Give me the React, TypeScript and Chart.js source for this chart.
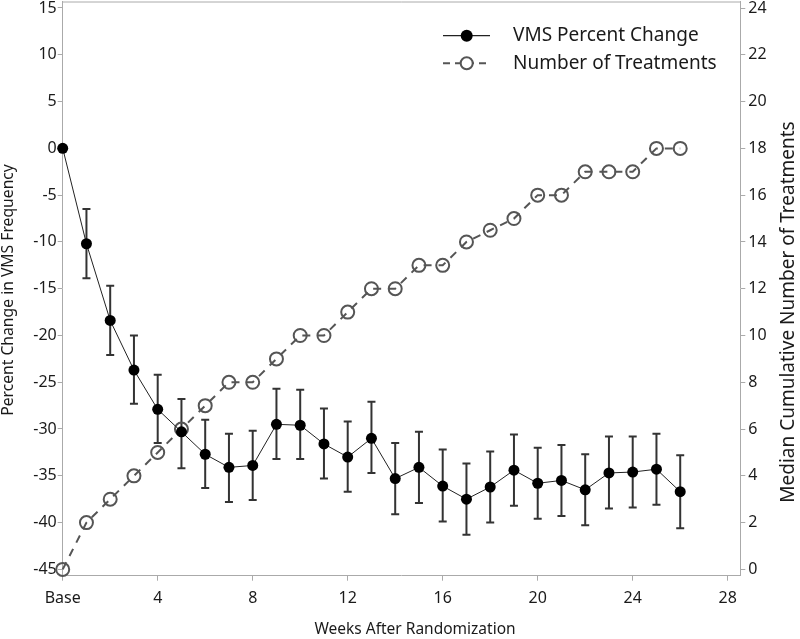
import React, { useEffect, useRef } from "react";
import { Chart, registerables } from "chart.js";

Chart.register(...registerables);

const weeks = [0, 1, 2, 3, 4, 5, 6, 7, 8, 9, 10, 11, 12, 13, 14, 15, 16, 17, 18, 19, 20, 21, 22, 23, 24, 25, 26];
const vmsChange = [0, -10.2, -18.4, -23.7, -27.9, -30.3, -32.7, -34.1, -33.9, -29.5, -29.6, -31.6, -33.0, -31.0, -35.3, -34.1, -36.1, -37.5, -36.2, -34.4, -35.8, -35.5, -36.5, -34.7, -34.6, -34.3, -36.7];
const vmsUpper = [null, -6.5, -14.7, -20.0, -24.2, -26.8, -29.0, -30.5, -30.2, -25.7, -25.8, -27.8, -29.2, -27.1, -31.5, -30.3, -32.2, -33.7, -32.4, -30.6, -32.0, -31.7, -32.7, -30.8, -30.8, -30.5, -32.8];
const vmsLower = [null, -13.9, -22.1, -27.3, -31.5, -34.2, -36.3, -37.8, -37.6, -33.2, -33.2, -35.3, -36.7, -34.7, -39.1, -37.9, -39.9, -41.3, -40.0, -38.2, -39.6, -39.3, -40.3, -38.5, -38.4, -38.1, -40.6];
const treatments = [0, 2, 3, 4, 5, 6, 7, 8, 8, 9, 10, 10, 11, 12, 12, 13, 13, 14, 14.5, 15, 16, 16, 17, 17, 17, 18, 18];

const xTicks = [0, 4, 8, 12, 16, 20, 24, 28];
const leftTicks = [-45, -40, -35, -30, -25, -20, -15, -10, -5, 0, 5, 10, 15];
const rightTicks = [0, 2, 4, 6, 8, 10, 12, 14, 16, 18, 20, 22, 24];

const seriesNames = ["VMS Percent Change", "Number of Treatments"];
const xTitle = "Weeks After Randomization";
const leftTitle = "Percent Change in VMS Frequency";
const rightTitle = "Median Cumulative Number of Treatments";

const FONT = "'Noto Sans', sans-serif";
const AXIS = "#aaaaaa";
const TEXT = "#1a1a1a";
const GRAY = "#555555";

const extrasPlugin = {
  id: "extras",
  beforeDatasetsDraw(chart: any) {
    const ctx = chart.ctx;
    const xs = chart.scales.x;
    const ys = chart.scales.y;
    ctx.save();
    ctx.strokeStyle = "#333333";
    ctx.lineWidth = 2;
    for (let i = 0; i < weeks.length; i++) {
      const lo = vmsLower[i];
      const hi = vmsUpper[i];
      if (lo === null || hi === null) continue;
      const px = xs.getPixelForValue(weeks[i]);
      const y1 = ys.getPixelForValue(hi);
      const y2 = ys.getPixelForValue(lo);
      ctx.beginPath();
      ctx.moveTo(px, y1);
      ctx.lineTo(px, y2);
      ctx.moveTo(px - 4, y1);
      ctx.lineTo(px + 4, y1);
      ctx.moveTo(px - 4, y2);
      ctx.lineTo(px + 4, y2);
      ctx.stroke();
    }
    ctx.restore();
  },
  afterDraw(chart: any) {
    const ctx = chart.ctx;
    const area = chart.chartArea;
    ctx.save();
    // top frame
    ctx.strokeStyle = AXIS;
    ctx.lineWidth = 1;
    ctx.beginPath();
    ctx.moveTo(area.left, area.top + 0.5);
    ctx.lineTo(area.right, area.top + 0.5);
    ctx.stroke();

    // legend
    const lx1 = 443;
    const lx2 = 490;
    const lc = 466.7;
    const r1 = 35.7;
    const r2 = 63.3;
    ctx.strokeStyle = "#222222";
    ctx.lineWidth = 1.2;
    ctx.beginPath();
    ctx.moveTo(lx1, r1);
    ctx.lineTo(lx2, r1);
    ctx.stroke();
    ctx.fillStyle = "#000000";
    ctx.beginPath();
    ctx.arc(lc, r1, 6, 0, Math.PI * 2);
    ctx.fill();

    ctx.strokeStyle = GRAY;
    ctx.lineWidth = 2;
    ctx.setLineDash([7, 5]);
    ctx.beginPath();
    ctx.moveTo(lx1, r2);
    ctx.lineTo(lx2, r2);
    ctx.stroke();
    ctx.setLineDash([]);
    ctx.fillStyle = "#ffffff";
    ctx.beginPath();
    ctx.arc(lc, r2, 6, 0, Math.PI * 2);
    ctx.fill();
    ctx.stroke();

    ctx.fillStyle = TEXT;
    ctx.font = "19px " + FONT;
    ctx.textAlign = "left";
    ctx.textBaseline = "middle";
    ctx.fillText(seriesNames[0], 513, r1);
    ctx.fillText(seriesNames[1], 513, r2);

    // x axis title
    ctx.font = "15.5px " + FONT;
    ctx.textAlign = "center";
    ctx.textBaseline = "middle";
    ctx.fillText(xTitle, 415, 630);

    // left axis title
    ctx.save();
    ctx.translate(9, 290);
    ctx.rotate(-Math.PI / 2);
    ctx.font = "15.7px " + FONT;
    ctx.fillText(leftTitle, 0, 0);
    ctx.restore();

    // right axis title (reads bottom to top)
    ctx.save();
    ctx.translate(789, 312);
    ctx.rotate(-Math.PI / 2);
    ctx.font = "19px " + FONT;
    ctx.fillText(rightTitle, 0, 0);
    ctx.restore();

    ctx.restore();
  },
};

export default function App() {
  const ref = useRef<HTMLCanvasElement | null>(null);
  useEffect(() => {
    if (!ref.current) return;
    const chart = new Chart(ref.current, {
      type: "line",
      data: {
        datasets: [
          {
            label: seriesNames[0],
            data: weeks.map((w, i) => ({ x: w, y: vmsChange[i] })),
            yAxisID: "y",
            borderColor: "#222222",
            borderWidth: 1,
            pointRadius: 5.5,
            pointBackgroundColor: "#000000",
            pointBorderColor: "#000000",
            pointBorderWidth: 0,
            tension: 0,
            clip: false,
          },
          {
            label: seriesNames[1],
            data: weeks.map((w, i) => ({ x: w, y: treatments[i] })),
            yAxisID: "y2",
            borderColor: GRAY,
            borderWidth: 2,
            borderDash: [8, 7],
            pointRadius: 6.5,
            pointBackgroundColor: "rgba(0,0,0,0)",
            pointBorderColor: GRAY,
            pointBorderWidth: 2,
            tension: 0,
            clip: false,
          },
        ],
      },
      options: {
        responsive: false,
        animation: false,
        layout: { autoPadding: false, padding: { top: 1.5, left: 0, right: 0, bottom: 0 } },
        plugins: { legend: { display: false }, tooltip: { enabled: false } },
        scales: {
          x: {
            type: "linear",
            min: 0,
            max: 28.53,
            afterBuildTicks: (s: any) => {
              s.ticks = xTicks.map((v) => ({ value: v }));
            },
            afterFit: (s: any) => {
              s.height = 63.3;
              s.paddingLeft = 0;
              s.paddingRight = 0;
            },
            ticks: {
              callback: (v: any) => (Number(v) === 0 ? "Base" : String(v)),
              font: { family: FONT, size: 16 },
              color: TEXT,
              padding: 8,
              maxRotation: 0,
            },
            grid: { drawOnChartArea: false, tickLength: 5, color: AXIS },
            border: { display: true, color: AXIS },
          },
          y: {
            type: "linear",
            position: "left",
            min: -45.68,
            max: 15.69,
            afterBuildTicks: (s: any) => {
              s.ticks = leftTicks.map((v) => ({ value: v }));
            },
            afterFit: (s: any) => {
              s.width = 62.7;
              s.paddingTop = 0;
              s.paddingBottom = 0;
            },
            ticks: { font: { family: FONT, size: 16 }, color: TEXT, padding: 1 },
            grid: { drawOnChartArea: false, tickLength: 5, color: AXIS },
            border: { display: true, color: AXIS },
          },
          y2: {
            type: "linear",
            position: "right",
            min: -0.27,
            max: 24.28,
            afterBuildTicks: (s: any) => {
              s.ticks = rightTicks.map((v) => ({ value: v }));
            },
            afterFit: (s: any) => {
              s.width = 59.7;
              s.paddingTop = 0;
              s.paddingBottom = 0;
            },
            ticks: { font: { family: FONT, size: 16 }, color: TEXT, padding: 3 },
            grid: { drawOnChartArea: false, tickLength: 5, color: AXIS },
            border: { display: true, color: AXIS },
          },
        },
      },
      plugins: [extrasPlugin],
    } as any);
    return () => chart.destroy();
  }, []);
  return (
    <div style={{ position: "absolute", left: 0, top: 0, width: 800, height: 639, background: "#fff" }}>
      <canvas ref={ref} width={800} height={639} style={{ display: "block" }} />
    </div>
  );
}
